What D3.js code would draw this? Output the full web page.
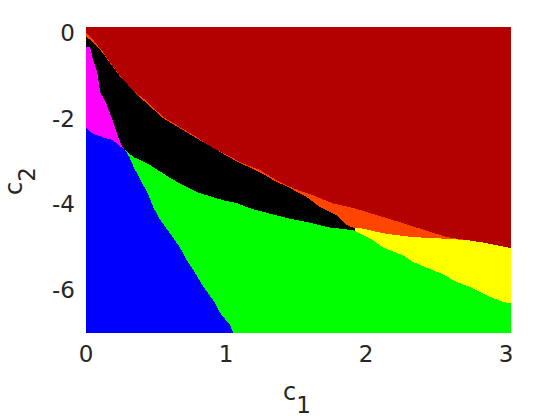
<!DOCTYPE html>
<html>
<head>
<meta charset="utf-8">
<script src="https://cdn.jsdelivr.net/npm/d3@7"></script>
<style>
  body { margin: 0; background: #fff; }
  text { font-family: "DejaVu Sans", sans-serif; fill: #262626; }
</style>
</head>
<body>
<div id="chart"></div>
<script>
// region boundaries, as [c1, c2] pairs
const redEdge = [
  [0, 0.02], [0.05, -0.16], [0.12, -0.44], [0.17, -0.68], [0.23, -0.94], [0.28, -1.15],
  [0.35, -1.38], [0.44, -1.61], [0.55, -1.96], [0.67, -2.2], [0.79, -2.43], [0.89, -2.67],
  [1.01, -2.85], [1.1, -3.02], [1.24, -3.2], [1.36, -3.44], [1.48, -3.63], [1.62, -3.79],
  [1.76, -3.98], [1.91, -4.09], [2.05, -4.23], [2.26, -4.44], [2.46, -4.65], [2.58, -4.77],
  [2.72, -4.84], [2.86, -4.91], [3.04, -5.03]
];
const orangeEdge = [
  [0, -0.09], [0.05, -0.21], [0.12, -0.47], [0.23, -0.96], [0.35, -1.4], [0.55, -1.99],
  [0.79, -2.46], [1.01, -2.88], [1.1, -3.04], [1.24, -3.25], [1.34, -3.44], [1.46, -3.63],
  [1.58, -3.84], [1.67, -4.07], [1.79, -4.26], [1.86, -4.49], [1.92, -4.56], [1.96, -4.56],
  [2.12, -4.68], [2.33, -4.77], [2.58, -4.81], [2.72, -4.84], [2.86, -4.91], [3.04, -5.03]
];
const yellowStart = 1.92;
const greenEdge = [
  [0.28, -2.74], [0.34, -2.9], [0.46, -3.09], [0.6, -3.39], [0.72, -3.6], [0.81, -3.74],
  [0.98, -3.91], [1.08, -3.98], [1.19, -4.12], [1.3, -4.21], [1.44, -4.33], [1.58, -4.42],
  [1.73, -4.54], [1.91, -4.61], [2.03, -4.8], [2.12, -5.01], [2.26, -5.19], [2.34, -5.36],
  [2.53, -5.61], [2.65, -5.82], [2.76, -5.96], [2.86, -6.13], [2.98, -6.29], [3.04, -6.32]
];
const magentaEdge = [
  [0, -0.33], [0.03, -0.33], [0.05, -0.63], [0.08, -0.91], [0.1, -1.38], [0.14, -1.61],
  [0.19, -2.04], [0.23, -2.43], [0.26, -2.67], [0.28, -2.74], [0, -2.74]
];
const blueTop = [
  [0, -2.2], [0.03, -2.32], [0.08, -2.39], [0.14, -2.46], [0.19, -2.5], [0.26, -2.69], [0.28, -2.74]
];
const blueEdge = [
  [0.31, -2.9], [0.34, -3.13], [0.39, -3.44], [0.44, -3.74], [0.48, -4.07], [0.53, -4.37],
  [0.6, -4.68], [0.67, -5.01], [0.72, -5.31], [0.78, -5.61], [0.84, -5.94], [0.91, -6.25],
  [0.96, -6.55], [1.03, -6.83], [1.05, -7], [0, -7]
];
const xTicks = [0, 1, 2, 3];
const yTicks = [0, -2, -4, -6];

const width = 560, height = 420;
const x = d3.scaleLinear().domain([0, 3]).range([86, 506]);
const y = d3.scaleLinear().domain([0, -7]).range([33, 332.5]);
const xMax = 3.036, yTop = 0.14, yBot = -7;

const svg = d3.select('#chart').append('svg')
  .attr('width', width)
  .attr('height', height);

const plot = svg.append('g').attr('shape-rendering', 'crispEdges');

plot.append('rect')
  .attr('x', x(0)).attr('y', y(yTop))
  .attr('width', x(xMax) - x(0)).attr('height', y(yBot) - y(yTop))
  .style('fill', '#b30000');

const area = d3.area()
  .x((d) => x(Math.min(d[0], xMax)))
  .y0(y(yBot))
  .y1((d) => y(d[1]));
const line = d3.line().x((d) => x(d[0])).y((d) => y(d[1]));

plot.append('path').attr('d', area(redEdge)).style('fill', '#ff4500');
plot.append('path').attr('d', area(orangeEdge)).style('fill', '#000000');
plot.append('path').attr('d', area(orangeEdge.filter((d) => d[0] >= yellowStart))).style('fill', '#ffff00');
plot.append('path').attr('d', area(greenEdge)).style('fill', '#00ff00');
plot.append('path').attr('d', line(magentaEdge) + 'Z').style('fill', '#ff00ff');
plot.append('path').attr('d', line(blueTop.concat(blueEdge)) + 'Z').style('fill', '#0000ff');

// tick labels (no axis lines)
svg.selectAll('.xt').data(xTicks).enter().append('text')
  .attr('class', 'xt')
  .attr('x', (d) => x(d)).attr('y', 362)
  .attr('text-anchor', 'middle')
  .style('font-size', '23px')
  .text((d) => d);

svg.selectAll('.yt').data(yTicks).enter().append('text')
  .attr('class', 'yt')
  .attr('x', 75).attr('y', (d) => y(d) + 8)
  .attr('text-anchor', 'end')
  .style('font-size', '23px')
  .text((d) => d);

const xl = svg.append('text')
  .attr('x', 297).attr('y', 400)
  .attr('text-anchor', 'middle')
  .style('font-size', '24px');
xl.append('tspan').text('c');
xl.append('tspan').attr('dy', 13).style('font-size', '23px').text('1');

const yl = svg.append('text')
  .attr('transform', 'translate(22,181) rotate(-90)')
  .attr('text-anchor', 'middle')
  .style('font-size', '24px');
yl.append('tspan').text('c');
yl.append('tspan').attr('dy', 13).style('font-size', '23px').text('2');
</script>
</body>
</html>
